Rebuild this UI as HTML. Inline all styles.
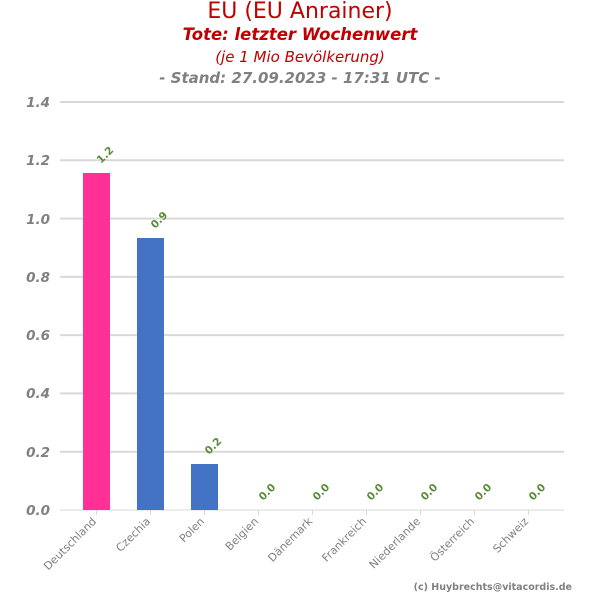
<!DOCTYPE html>
<html><head><meta charset="utf-8"><style>
body{margin:0;background:#fff;}
svg{display:block;font-family:"DejaVu Sans","Liberation Sans",sans-serif;}
</style></head><body>
<svg width="600" height="600" viewBox="0 0 600 600">
<text x="300" y="18" text-anchor="middle" font-size="22" fill="#c00000">EU (EU Anrainer)</text>
<text x="300" y="40" text-anchor="middle" font-size="16.5" font-weight="bold" font-style="italic" fill="#c00000">Tote: letzter Wochenwert</text>
<text x="300" y="62" text-anchor="middle" font-size="15" font-style="italic" fill="#c00000">(je 1 Mio Bevölkerung)</text>
<text x="300" y="83" text-anchor="middle" font-size="15" font-weight="bold" font-style="italic" fill="#808080">- Stand: 27.09.2023 - 17:31 UTC -</text>
<g stroke="#d9d9d9" stroke-width="2">
<line x1="60" x2="564" y1="102" y2="102"/><line x1="60" x2="564" y1="160.3" y2="160.3"/>
<line x1="60" x2="564" y1="218.6" y2="218.6"/><line x1="60" x2="564" y1="276.9" y2="276.9"/>
<line x1="60" x2="564" y1="335.1" y2="335.1"/><line x1="60" x2="564" y1="393.4" y2="393.4"/>
<line x1="60" x2="564" y1="451.7" y2="451.7"/>
</g>
<line x1="60" x2="564" y1="510" y2="510" stroke="#d9d9d9" stroke-width="1"/>
<g font-size="13.5" font-weight="bold" font-style="italic" fill="#808080" text-anchor="end">
<text x="50" y="107">1.4</text><text x="50" y="165">1.2</text><text x="50" y="224">1.0</text>
<text x="50" y="282">0.8</text><text x="50" y="340">0.6</text><text x="50" y="398">0.4</text>
<text x="50" y="457">0.2</text><text x="50" y="515">0.0</text>
</g>
<rect x="83" y="173" width="27" height="337" fill="#ff3096"/>
<rect x="137" y="238" width="27" height="272" fill="#4472c4"/>
<rect x="191" y="464" width="27" height="46" fill="#4472c4"/>
<g stroke="#d9d9d9">
<line x1="96.5" x2="96.5" y1="510" y2="515"/><line x1="150.5" x2="150.5" y1="510" y2="515"/>
<line x1="204.5" x2="204.5" y1="510" y2="515"/><line x1="258.5" x2="258.5" y1="510" y2="515"/>
<line x1="312.5" x2="312.5" y1="510" y2="515"/><line x1="366.5" x2="366.5" y1="510" y2="515"/>
<line x1="420.5" x2="420.5" y1="510" y2="515"/><line x1="474.5" x2="474.5" y1="510" y2="515"/>
<line x1="528.5" x2="528.5" y1="510" y2="515"/>
</g>
<g font-size="11" fill="#808080" text-anchor="end">
<text transform="translate(97,522) rotate(-45)">Deutschland</text>
<text transform="translate(151,522) rotate(-45)">Czechia</text>
<text transform="translate(205,522) rotate(-45)">Polen</text>
<text transform="translate(259,522) rotate(-45)">Belgien</text>
<text transform="translate(313,522) rotate(-45)">Dänemark</text>
<text transform="translate(367,522) rotate(-45)">Frankreich</text>
<text transform="translate(421,522) rotate(-45)">Niederlande</text>
<text transform="translate(475,522) rotate(-45)">Österreich</text>
<text transform="translate(529,522) rotate(-45)">Schweiz</text>
</g>
<g font-size="10.5" font-weight="bold" fill="#5a8a3a">
<text transform="translate(101,164) rotate(-45)">1.2</text>
<text transform="translate(155,229) rotate(-45)">0.9</text>
<text transform="translate(209,455) rotate(-45)">0.2</text>
<text transform="translate(263,501) rotate(-45)">0.0</text>
<text transform="translate(317,501) rotate(-45)">0.0</text>
<text transform="translate(371,501) rotate(-45)">0.0</text>
<text transform="translate(425,501) rotate(-45)">0.0</text>
<text transform="translate(479,501) rotate(-45)">0.0</text>
<text transform="translate(533,501) rotate(-45)">0.0</text>
</g>
<text x="572" y="590" text-anchor="end" font-size="9.5" font-weight="bold" fill="#808080">(c) Huybrechts@vitacordis.de</text>
</svg>
</body></html>
